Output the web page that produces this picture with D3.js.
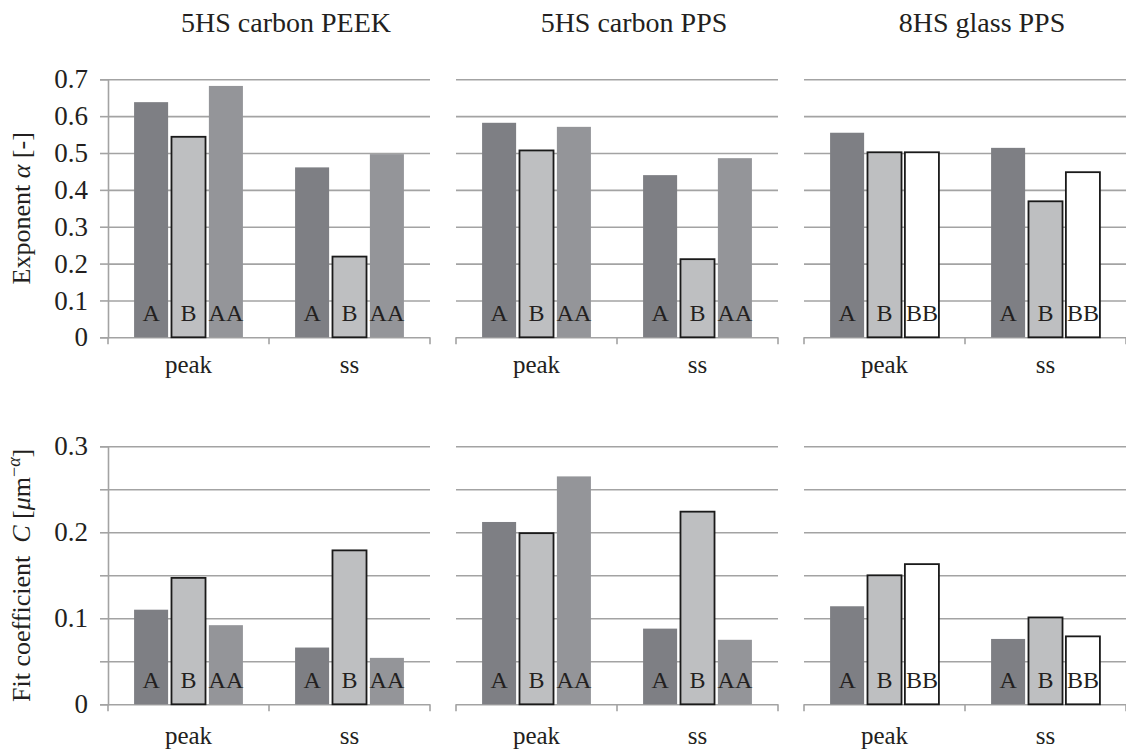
<!DOCTYPE html>
<html>
<head>
<meta charset="utf-8">
<script src="https://cdn.jsdelivr.net/npm/d3@7/dist/d3.min.js"></script>
</head>
<body style="margin:0">
<svg id="chart" width="1126" height="751"></svg>
<script>
// categories
const groups = ['peak', 'ss'];
const panelTitles = ['5HS carbon PEEK', '5HS carbon PPS', '8HS glass PPS'];
const panelSeries = [['A', 'B', 'AA'], ['A', 'B', 'AA'], ['A', 'B', 'BB']];

// exponent alpha, rows = peak, ss
const alphaCarbonPEEK = [[0.638, 0.544, 0.682], [0.461, 0.219, 0.497]];
const alphaCarbonPPS  = [[0.582, 0.507, 0.571], [0.440, 0.212, 0.486]];
const alphaGlassPPS   = [[0.555, 0.502, 0.502], [0.514, 0.369, 0.448]];

// fit coefficient C, rows = peak, ss
const coefCarbonPEEK = [[0.110, 0.147, 0.092], [0.066, 0.179, 0.054]];
const coefCarbonPPS  = [[0.212, 0.199, 0.265], [0.088, 0.224, 0.075]];
const coefGlassPPS   = [[0.114, 0.150, 0.163], [0.076, 0.101, 0.079]];

// ticks
const alphaTicks = [0, 0.1, 0.2, 0.3, 0.4, 0.5, 0.6, 0.7];
const coefGrid = [0, 0.05, 0.1, 0.15, 0.2, 0.25, 0.3];
const coefLabels = [0, 0.1, 0.2, 0.3];

const fills = {A: '#7e7f84', B: '#bebfc1', AA: '#949599', BB: '#ffffff'};
const outlined = {B: true, BB: true};
const gridColor = '#a3a3a3';
const textColor = '#231f20';
const serif = "'Liberation Serif', serif";

const svg = d3.select('#chart');
const panelW = 322, panelGap = 26, firstLeft = 108;

const rows = [
  {data: [alphaCarbonPEEK, alphaCarbonPPS, alphaGlassPPS], domain: [0, 0.7], top: 79.3, bottom: 337.3,
   grid: alphaTicks, labels: alphaTicks, catY: 36},
  {data: [coefCarbonPEEK, coefCarbonPPS, coefGlassPPS], domain: [0, 0.3], top: 446.3, bottom: 704.3,
   grid: coefGrid, labels: coefLabels, catY: 40}
];

const label = (sel, size) => sel.style('font-family', serif).style('font-size', size).attr('fill', textColor);

rows.forEach((row, ri) => {
  const y = d3.scaleLinear().domain(row.domain).range([row.bottom, row.top]);

  panelTitles.forEach((title, pi) => {
    const left = firstLeft + pi * (panelW + panelGap);
    const x0 = d3.scaleBand().domain(groups).range([left, left + panelW]).padding(0);
    const bw = x0.bandwidth();
    const x1 = d3.scaleBand().domain(panelSeries[pi])
                .range([bw * 0.162, bw * 0.838]).paddingInner(0.09);
    const g = svg.append('g');

    // gridlines
    g.append('g')
      .attr('transform', `translate(${left},0)`)
      .call(d3.axisLeft(y).tickValues(row.grid).tickSize(-panelW).tickFormat(''))
      .call(s => s.select('.domain').remove())
      .selectAll('line').attr('stroke', gridColor).attr('stroke-width', 1.6);

    // left axis only on first panel
    if (pi == 0) {
      g.append('g')
        .attr('transform', `translate(${left},0)`)
        .call(d3.axisLeft(y).tickValues(row.grid).tickSize(8).tickPadding(12)
          .tickFormat(d => row.labels.some(l => Math.abs(l - d) < 1e-9) ? String(+d.toFixed(2)) : ''))
        .attr('font-family', null).attr('font-size', null)
        .call(s => s.select('.domain').attr('stroke', gridColor).attr('stroke-width', 1.6))
        .call(s => s.selectAll('line').attr('stroke', gridColor).attr('stroke-width', 1.6))
        .selectAll('text').call(label, '27px');
    }

    // category boundary ticks
    const bounds = groups.map(d => x0(d)).concat([x0.range()[1]]);
    g.selectAll('.cat-tick').data(bounds).enter().append('line')
      .attr('x1', d => d).attr('x2', d => d)
      .attr('y1', row.bottom).attr('y2', row.bottom + 7)
      .attr('stroke', gridColor).attr('stroke-width', 1.6);

    // category labels
    g.selectAll('.cat-label').data(groups).enter().append('text')
      .attr('x', d => x0(d) + bw / 2)
      .attr('y', row.bottom + row.catY)
      .attr('text-anchor', 'middle')
      .call(label, '25px')
      .text(d => d);

    // bars
    const bars = [];
    groups.forEach((grp, gi) => {
      panelSeries[pi].forEach((s, si) => {
        bars.push({grp: grp, s: s, v: row.data[pi][gi][si]});
      });
    });
    const bg = g.selectAll('.bar').data(bars).enter().append('g');
    bg.append('rect')
      .attr('x', d => x0(d.grp) + x1(d.s))
      .attr('y', d => y(d.v))
      .attr('width', x1.bandwidth())
      .attr('height', d => y(0) - y(d.v))
      .attr('fill', d => fills[d.s])
      .attr('stroke', d => outlined[d.s] ? '#1a1a1a' : 'none')
      .attr('stroke-width', 1.8);
    bg.append('text')
      .attr('x', d => x0(d.grp) + x1(d.s) + x1.bandwidth() / 2)
      .attr('y', row.bottom - 16)
      .attr('text-anchor', 'middle')
      .call(label, '24px')
      .text(d => d.s);

    // panel titles on top row
    if (ri == 0) {
      svg.append('text')
        .attr('x', left + panelW / 2 + 17)
        .attr('y', 32)
        .attr('text-anchor', 'middle')
        .call(label, '28px')
        .text(title);
    }
  });
});

// y axis titles
const yt1 = svg.append('text')
  .attr('transform', `translate(30, ${(79.3 + 337.3) / 2}) rotate(-90)`)
  .attr('text-anchor', 'middle')
  .call(label, '26px');
yt1.append('tspan').text('Exponent ');
yt1.append('tspan').style('font-style', 'italic').text('α');
yt1.append('tspan').text(' [-]');

const yt2 = svg.append('text')
  .attr('transform', `translate(30, ${(446.3 + 704.3) / 2}) rotate(-90)`)
  .attr('text-anchor', 'middle')
  .call(label, '26px');
yt2.append('tspan').text('Fit coefficient\u00a0\u00a0');
yt2.append('tspan').style('font-style', 'italic').text('C');
yt2.append('tspan').text(' [');
yt2.append('tspan').style('font-style', 'italic').text('μ');
yt2.append('tspan').text('m');
yt2.append('tspan').attr('dy', -10).style('font-size', '18px').text('−');
yt2.append('tspan').style('font-size', '18px').style('font-style', 'italic').text('α');
yt2.append('tspan').attr('dy', 10).text(']');
</script>
</body>
</html>
